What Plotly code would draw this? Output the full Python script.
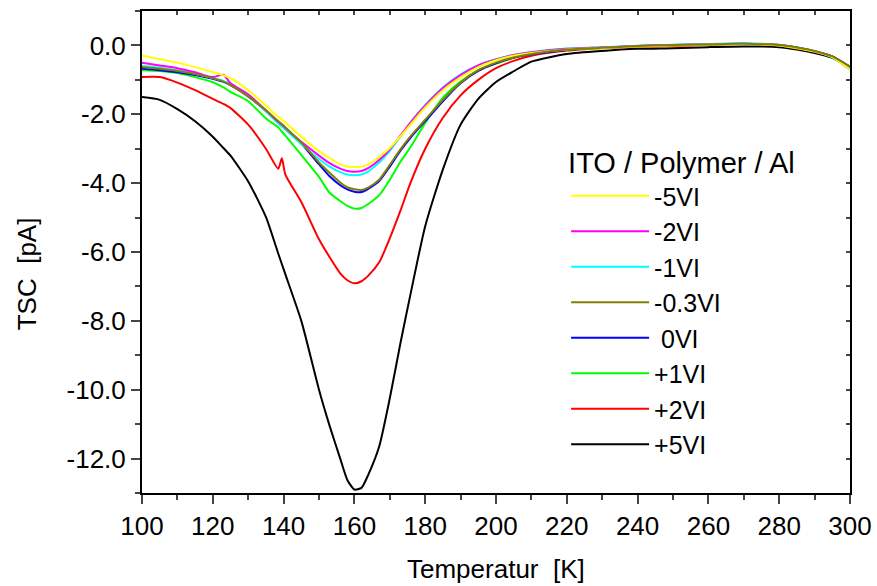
import plotly.graph_objects as go

# Temperature grid [K]
temperature = [100, 105, 110, 115, 120, 123, 125, 130, 135, 138.5, 139.5, 140.5, 145, 150, 153, 156, 158, 160,
               162, 164, 167, 170, 173, 176, 180, 185, 190, 195, 200, 205, 210, 220, 230, 240, 250, 260,
               270, 280, 285, 290, 295, 300]

# TSC values [pA]
tsc_m5 = [-0.29, -0.40, -0.50, -0.63, -0.77, -0.87, -0.95, -1.30, -1.75, -2.08, -2.15, -2.24, -2.65, -3.07, -3.27,
          -3.45, -3.52, -3.53, -3.52, -3.45, -3.24, -2.98, -2.64, -2.28, -1.80, -1.30, -0.93, -0.63, -0.43, -0.30,
          -0.22, -0.12, -0.08, -0.03, 0.00, 0.02, 0.04, 0.00, -0.08, -0.18, -0.34, -0.70]
tsc_m2 = [-0.50, -0.58, -0.66, -0.78, -0.92, -0.85, -1.10, -1.42, -1.88, -2.22, -2.30, -2.40, -2.80, -3.20, -3.42,
          -3.58, -3.65, -3.67, -3.65, -3.56, -3.33, -3.02, -2.62, -2.22, -1.75, -1.24, -0.86, -0.58, -0.41, -0.28,
          -0.20, -0.10, -0.06, -0.02, 0.01, 0.03, 0.05, 0.01, -0.07, -0.18, -0.33, -0.70]
tsc_m1 = [-0.60, -0.65, -0.72, -0.82, -0.95, -1.03, -1.12, -1.45, -1.92, -2.27, -2.36, -2.45, -2.87, -3.30, -3.52,
          -3.68, -3.75, -3.77, -3.75, -3.65, -3.40, -3.06, -2.65, -2.22, -1.73, -1.22, -0.84, -0.57, -0.40, -0.28,
          -0.19, -0.09, -0.05, -0.01, 0.02, 0.04, 0.06, 0.02, -0.06, -0.17, -0.35, -0.70]
tsc_m03 = [-0.63, -0.68, -0.74, -0.83, -0.95, -1.05, -1.15, -1.48, -1.88, -2.20, -2.28, -2.38, -2.82, -3.40, -3.70,
           -3.98, -4.12, -4.18, -4.20, -4.12, -3.90, -3.47, -3.02, -2.62, -2.16, -1.58, -1.08, -0.72, -0.50, -0.35,
           -0.25, -0.12, -0.07, -0.02, 0.01, 0.03, 0.05, 0.01, -0.06, -0.16, -0.32, -0.62]
tsc_0 = [-0.68, -0.72, -0.78, -0.86, -0.97, -1.06, -1.15, -1.48, -1.90, -2.23, -2.31, -2.41, -2.85, -3.45, -3.80,
         -4.06, -4.18, -4.25, -4.26, -4.16, -3.94, -3.52, -3.06, -2.66, -2.20, -1.62, -1.10, -0.74, -0.52, -0.36,
         -0.26, -0.13, -0.07, -0.02, 0.01, 0.03, 0.05, 0.01, -0.06, -0.17, -0.32, -0.62]
tsc_p1 = [-0.72, -0.74, -0.80, -0.92, -1.07, -1.22, -1.35, -1.62, -2.12, -2.38, -2.50, -2.62, -3.18, -3.82, -4.28,
          -4.52, -4.66, -4.74, -4.72, -4.60, -4.35, -3.90, -3.38, -2.93, -2.25, -1.52, -1.05, -0.72, -0.53, -0.36,
          -0.25, -0.12, -0.07, -0.02, 0.01, 0.03, 0.05, 0.01, -0.06, -0.17, -0.33, -0.65]
tsc_p2 = [-0.92, -0.92, -1.08, -1.30, -1.55, -1.70, -1.82, -2.30, -3.00, -3.58, -3.28, -3.75, -4.55, -5.63, -6.15,
          -6.62, -6.82, -6.91, -6.85, -6.68, -6.30, -5.60, -4.80, -3.95, -3.00, -2.10, -1.45, -1.00, -0.66, -0.45,
          -0.30, -0.15, -0.08, -0.04, -0.02, 0.02, 0.04, 0.00, -0.08, -0.18, -0.32, -0.65]
tsc_p5 = [-1.50, -1.58, -1.85, -2.20, -2.65, -2.98, -3.20, -3.95, -4.98, -6.05, -6.35, -6.65, -8.00, -10.00, -11.05,
          -12.00, -12.62, -12.90, -12.85, -12.45, -11.65, -10.25, -8.65, -7.15, -5.25, -3.60, -2.30, -1.55, -1.06,
          -0.75, -0.47, -0.25, -0.16, -0.10, -0.08, -0.05, -0.03, -0.05, -0.12, -0.22, -0.36, -0.65]

legend_labels = ["-5VI", "-2VI", "-1VI", "-0.3VI", " 0VI", "+1VI", "+2VI", "+5VI"]
series_values = [tsc_m5, tsc_m2, tsc_m1, tsc_m03, tsc_0, tsc_p1, tsc_p2, tsc_p5]
series_colors = ["#FFFF00", "#FF00FF", "#00FFFF", "#808000", "#0000FF", "#00FF00", "#FF0000", "#000000"]
draw_order = [7, 6, 5, 4, 2, 1, 0, 3]

x_ticks = list(range(100, 301, 20))
y_ticks = [0, -2, -4, -6, -8, -10, -12]
y_ticktext = ["0.0", "-2.0", "-4.0", "-6.0", "-8.0", "-10.0", "-12.0"]
x_range = [100, 300]
y_range = [-13, 1]

FONT = "Liberation Sans, Arial, sans-serif"

fig = go.Figure()
for i in draw_order:
    fig.add_trace(go.Scatter(
        x=temperature, y=series_values[i], mode="lines", name=legend_labels[i],
        line=dict(color=series_colors[i], width=2, shape="spline", smoothing=0.6),
        legendrank=i + 1, legendgroup=str(i),
    ))

# invisible trace for the mirrored (top/right) axes
fig.add_trace(go.Scatter(x=x_range, y=y_range, xaxis="x2", yaxis="y2", mode="lines",
                         line=dict(width=0), showlegend=False, hoverinfo="skip"))

fig.update_layout(
    width=877, height=586,
    margin=dict(l=142, r=27, t=11, b=93, autoexpand=False),
    paper_bgcolor="white", plot_bgcolor="white",
    font=dict(family=FONT, color="black"),
    showlegend=True,
    legend=dict(
        x=0.599, y=0.742, xanchor="left", yanchor="top",
        bgcolor="rgba(0,0,0,0)",
        title=dict(text="ITO / Polymer / Al", font=dict(size=29, family=FONT)),
        font=dict(size=25, family=FONT),
        itemwidth=78, traceorder="grouped", tracegroupgap=0,
    ),
    xaxis=dict(
        range=x_range, tickvals=x_ticks, ticks="outside", ticklen=9, tickwidth=1.5,
        showline=True, linecolor="black", linewidth=2, showgrid=False, zeroline=False,
        tickfont=dict(size=26, family=FONT), automargin=False,
        minor=dict(dtick=10, tick0=100, ticks="outside", ticklen=5, tickwidth=1.5, showgrid=False),
    ),
    yaxis=dict(
        range=y_range, tickvals=y_ticks, ticktext=y_ticktext, ticks="outside", ticklen=9, tickwidth=1.5,
        showline=True, linecolor="black", linewidth=2, showgrid=False, zeroline=False,
        tickfont=dict(size=26, family=FONT), automargin=False,
        minor=dict(dtick=1, tick0=0, ticks="outside", ticklen=5, tickwidth=1.5, showgrid=False),
    ),
    xaxis2=dict(
        overlaying="x", side="top", range=x_range, dtick=10, tick0=100, ticks="inside", ticklen=4,
        tickwidth=1.5, showticklabels=False, showline=True, linecolor="black", linewidth=2,
        showgrid=False, zeroline=False, automargin=False,
    ),
    yaxis2=dict(
        overlaying="y", side="right", range=y_range, dtick=1, tick0=0, ticks="inside", ticklen=4,
        tickwidth=1.5, showticklabels=False, showline=True, linecolor="black", linewidth=2,
        showgrid=False, zeroline=False, automargin=False,
    ),
    annotations=[
        dict(text="Temperatur\u00a0\u00a0[K]", xref="paper", yref="paper", x=0.5, y=-0.158, xanchor="center",
             yanchor="middle", showarrow=False, font=dict(size=26, family=FONT)),
        dict(text="TSC\u00a0\u00a0[pA]", xref="paper", yref="paper", x=-0.163, y=0.455, xanchor="center",
             yanchor="middle", textangle=-90, showarrow=False, font=dict(size=26, family=FONT)),
    ],
)

fig.write_html("out.html")
